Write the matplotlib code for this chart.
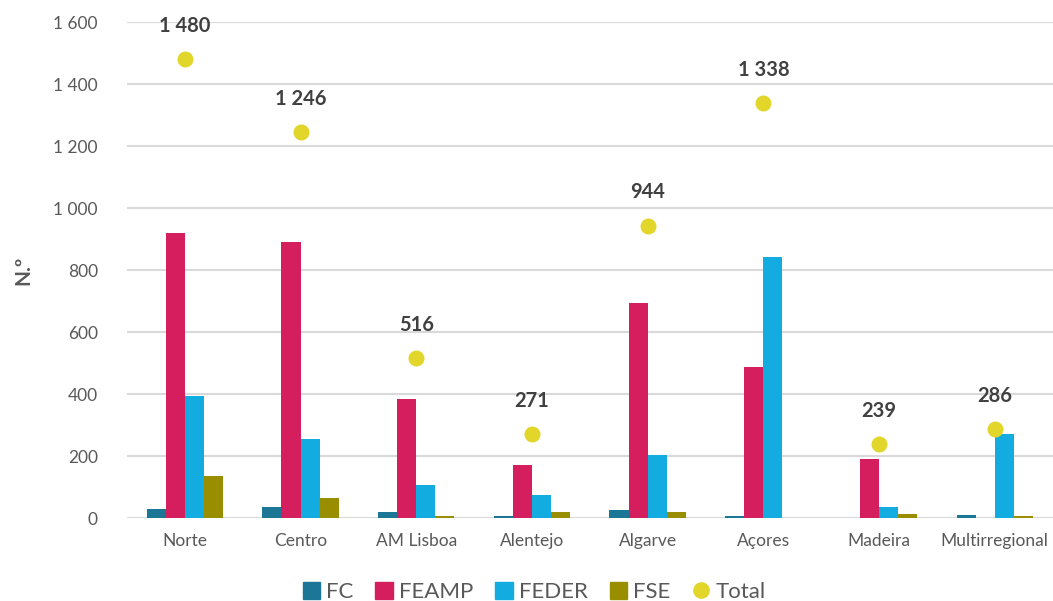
import numpy as np
import matplotlib.pyplot as plt
from matplotlib.ticker import FuncFormatter
from matplotlib.lines import Line2D
from matplotlib.patches import Patch

# data
regions = ['Norte', 'Centro', 'AM Lisboa', 'Alentejo', 'Algarve', 'Açores', 'Madeira', 'Multirregional']
fc = [30, 37, 19, 6, 26, 7, 1, 10]
feamp = [920, 890, 385, 170, 693, 488, 190, 0]
feder = [395, 255, 106, 76, 204, 842, 35, 270]
fse = [135, 64, 6, 19, 21, 1, 13, 6]
total = [1480, 1246, 516, 271, 944, 1338, 239, 286]

series = [('FC', fc, '#1B7795'), ('FEAMP', feamp, '#D41E5E'),
          ('FEDER', feder, '#12ACE0'), ('FSE', fse, '#998E00')]
total_color = '#E2D62A'

plt.rcParams['font.family'] = ['Lato', 'DejaVu Sans']

fig = plt.figure(figsize=(10.53, 6.01), dpi=100)
ax = fig.add_axes([0.1206, 0.138, 0.879, 0.825])

x = np.arange(len(regions))
w = 0.165
for i, (name, vals, col) in enumerate(series):
    ax.bar(x + (i - 1.5) * w, vals, w, color=col, zorder=3)

ax.scatter(x, total, s=110, color=total_color, zorder=4)
for xi, t in zip(x, total):
    ax.annotate(f'{t:,}'.replace(',', ' '), (xi, t), xytext=(0, 24),
                textcoords='offset points', ha='center', va='center',
                fontsize=14.5, fontweight='bold', color='#404040')

ax.set_xlim(-0.5, len(regions) - 0.5)
ax.set_ylim(0, 1600)
ax.set_yticks(range(0, 1601, 200))
ax.yaxis.set_major_formatter(FuncFormatter(lambda v, p: f'{int(v):,}'.replace(',', ' ')))
ax.set_xticks(x)
ax.set_xticklabels(regions)
ax.tick_params(axis='both', length=0, colors='#595959', labelsize=12.5)
ax.tick_params(axis='x', pad=11)
ax.tick_params(axis='y', pad=21)
ax.grid(axis='y', color='#D9D9D9', linewidth=1.5, zorder=0)
for s in ax.spines.values():
    s.set_visible(False)

ax.set_ylabel('N.º', fontsize=15, fontweight='bold', color='#595959', labelpad=14)

handles = [Patch(color=col) for _, _, col in series]
handles.append(Line2D([], [], marker='o', linestyle='none', color=total_color, markersize=11))
labels = [name for name, _, _ in series] + ['Total']
ax.legend(handles, labels, loc='upper center', bbox_to_anchor=(0.44, -0.088), ncol=5,
          frameon=False, fontsize=16, labelcolor='#595959', handlelength=0.8,
          handleheight=0.8, handletextpad=0.25, columnspacing=1.0)

fig.savefig('out.png', dpi=100)
